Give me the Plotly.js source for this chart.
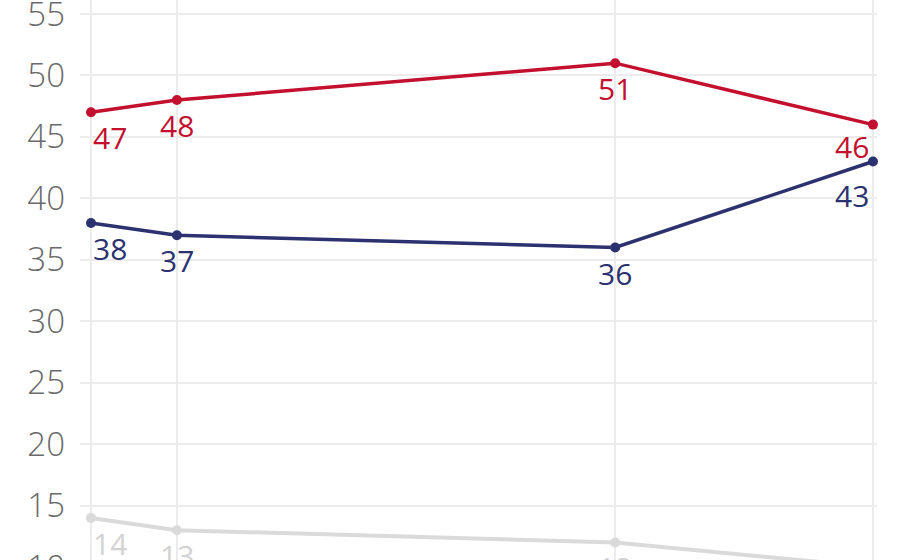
<!DOCTYPE html>
<html>
<head>
<meta charset="utf-8">
<script src="https://cdn.plot.ly/plotly-3.0.1.min.js"></script>
<style>
  html, body { margin: 0; padding: 0; background: #fff; overflow: hidden; }
  #chart { width: 900px; height: 600px; }
</style>
</head>
<body>
<div id="chart"></div>
<script>
// poll dates (x labels are cropped off in the picture)
var pollDates = ['2019-01-10', '2019-02-09', '2019-07-12', '2019-10-10'];

var redValues = [47, 48, 51, 46];
var blueValues = [38, 37, 36, 43];
var greyValues = [14, 13, 12, 10];

var yTicks = [10, 15, 20, 25, 30, 35, 40, 45, 50, 55];

// label placement under each point: anchor side, extra drop
var labelAnchor = ['left', 'center', 'center', 'right'];
var redDrop = [0, 0, 0, 4];
var blueDrop = [0, 0, 0, -9];
var greyDrop = [0, 0, 0, 0];

var RED = '#c3102f', BLUE = '#2c3170', GREY = '#dadada';

function lineTrace(values, color, width) {
  return {
    x: pollDates,
    y: values,
    type: 'scatter',
    mode: 'lines+markers',
    line: { color: color, width: width },
    marker: { color: color, size: 10 },
    hoverinfo: 'skip',
    cliponaxis: false
  };
}

function labels(values, color, drops) {
  return values.map(function (v, i) {
    var anchor = labelAnchor[i];
    return {
      x: pollDates[i],
      y: v,
      text: String(v),
      showarrow: false,
      xanchor: anchor,
      yanchor: 'top',
      xshift: anchor === 'right' ? -2 : 0,
      yshift: -3 + drops[i],
      font: { family: 'Open Sans', size: 30, color: color, weight: 500 }
    };
  });
}

var data = [
  lineTrace(greyValues, GREY, 4),
  lineTrace(blueValues, BLUE, 3.5),
  lineTrace(redValues, RED, 3.5)
];

var annotations = []
  .concat(labels(greyValues, '#d2d2d2', greyDrop))
  .concat(labels(blueValues, BLUE, blueDrop))
  .concat(labels(redValues, RED, redDrop));

var layout = {
  width: 900,
  height: 600,
  margin: { l: 80, r: 23, t: 0, b: 0 },
  paper_bgcolor: '#fff',
  plot_bgcolor: '#fff',
  showlegend: false,
  font: { family: 'Open Sans', color: '#6a6a6a' },
  annotations: annotations,
  xaxis: {
    type: 'date',
    range: ['2019-01-06 03:50', '2019-10-11 09:36'],
    tickmode: 'array',
    tickvals: pollDates,
    showticklabels: false,
    showgrid: true,
    gridcolor: '#ececec',
    gridwidth: 2,
    zeroline: false,
    showline: false
  },
  yaxis: {
    range: [7.32, 56.14],
    tickmode: 'array',
    tickvals: yTicks,
    showgrid: true,
    gridcolor: '#ececec',
    gridwidth: 2,
    zeroline: false,
    showline: false,
    ticks: '',
    ticklabelstandoff: 14,
    ticklabeloverflow: 'allow',
    tickfont: { family: 'Open Sans', size: 33, color: '#6a6a6a', weight: 300 }
  }
};

Plotly.newPlot('chart', data, layout, { displayModeBar: false, staticPlot: true });
</script>
</body>
</html>
